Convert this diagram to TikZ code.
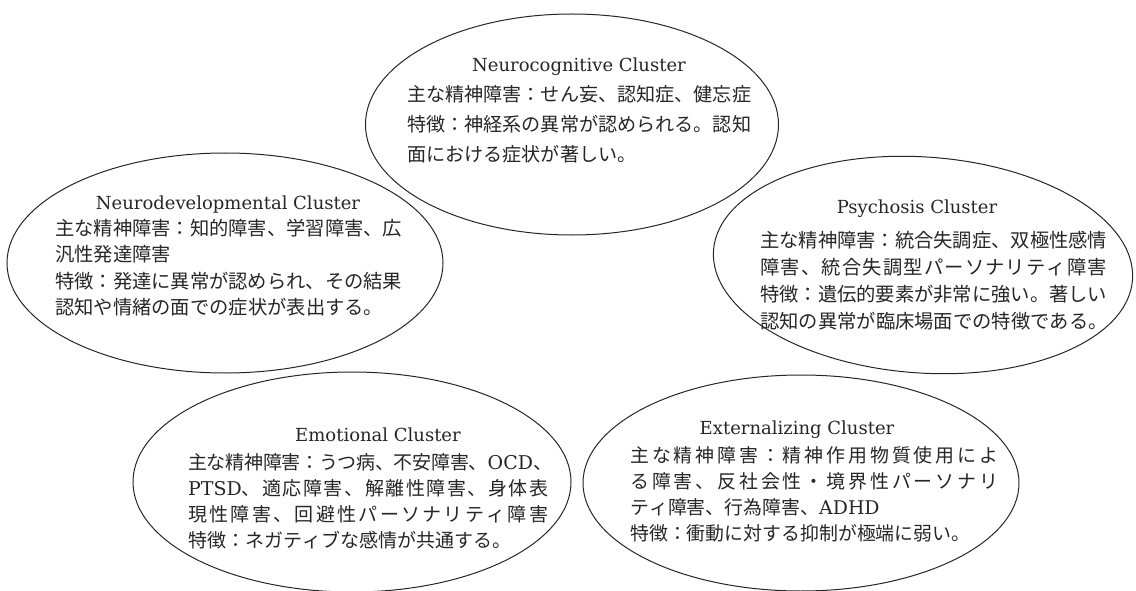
\documentclass[tikz,border=0pt]{standalone}
\usepackage{fontspec}
\usetikzlibrary{shapes.geometric}
\setmainfont{DejaVu Serif}
\newfontfamily\jpfont{Noto Sans CJK JP}
\newfontfamily\latfont{DejaVu Serif}
% inter-character glue for justified Japanese lines
\newcount\cjkc
\cjkc="3000 \loop \XeTeXcharclass\cjkc=7 \advance\cjkc by 1 \ifnum\cjkc<"3100 \repeat
\cjkc="4E00 \loop \XeTeXcharclass\cjkc=7 \advance\cjkc by 1 \ifnum\cjkc<"A000 \repeat
\cjkc="FF00 \loop \XeTeXcharclass\cjkc=7 \advance\cjkc by 1 \ifnum\cjkc<"FFF0 \repeat
\XeTeXinterchartokenstate=1
\XeTeXinterchartoks 7 7 = {\hskip 0pt plus 1pt minus 0.3pt}
\XeTeXinterchartoks 7 0 = {\hskip 0pt plus 1pt minus 0.3pt}
\XeTeXinterchartoks 0 7 = {\hskip 0pt plus 1pt minus 0.3pt}
\newcommand{\jl}[2]{\makebox[#1pt][s]{#2}}
\newcommand{\fr}{\rule{0pt}{20pt}}
\begin{document}
\begin{tikzpicture}[x=1pt,y=-1pt,
  ell/.style={draw=black!85, line width=1pt, ellipse, inner sep=0pt},
  ttl/.style={anchor=base, inner sep=0pt, text=black!85, font=\latfont\fontsize{18}{18}\selectfont},
  body/.style={anchor=north west, inner sep=0pt, align=left, text=black!85}]
\useasboundingbox (0,0) rectangle (1136,591);
% ellipses
\node[ell, minimum width=413pt, minimum height=221pt] (e1) at (572,124.5) {};
\node[ell, minimum width=436pt, minimum height=220pt] (e2) at (225,263) {};
\node[ell, minimum width=420pt, minimum height=216pt, rotate=-4] (e3) at (923,265) {};
\node[ell, minimum width=438pt, minimum height=220pt] (e4) at (352,482) {};
\node[ell, minimum width=436pt, minimum height=216pt] (e5) at (801,483) {};
% Neurocognitive
\node[ttl] (t1) at (579,71.5) {Neurocognitive Cluster};
\node[body, font=\jpfont\fontsize{19.1}{30}\selectfont] (b1) at (407,81)
 {\fr\jl{344}{主な精神障害：せん妄、認知症、健忘症}\\
  \jl{344}{特徴：神経系の異常が認められる。認知}\\
  面における症状が著しい。};
% Neurodevelopmental
\node[ttl] (t2) at (228,209.5) {Neurodevelopmental Cluster};
\node[body, font=\jpfont\fontsize{19.3}{26.5}\selectfont] (b2) at (55,215)
 {\fr\jl{347}{主な精神障害：知的障害、学習障害、広}\\
  汎性発達障害\\
  \jl{347}{特徴：発達に異常が認められ、その結果}\\
  認知や情緒の面での症状が表出する。};
% Psychosis
\node[ttl] (t3) at (917,213.5) {Psychosis Cluster};
\node[body, font=\jpfont\fontsize{19.3}{27}\selectfont] (b3) at (760,227)
 {\fr\jl{347}{主な精神障害：統合失調症、双極性感情}\\
  \jl{347}{障害、統合失調型パーソナリティ障害}\\
  \jl{347}{特徴：遺伝的要素が非常に強い。著しい}\\
  認知の異常が臨床場面での特徴である。};
% Emotional
\node[ttl] (t4) at (378,441.5) {Emotional Cluster};
\node[body, font=\jpfont\fontsize{19}{26}\selectfont] (b4) at (188,449)
 {\fr\jl{360}{主な精神障害：うつ病、不安障害、{\latfont OCD}、}\\
  \jl{360}{{\latfont PTSD}、適応障害、解離性障害、身体表}\\
  \jl{360}{現性障害、回避性パーソナリティ障害}\\
  特徴：ネガティブな感情が共通する。};
% Externalizing
\node[ttl] (t5) at (797,434.5) {Externalizing Cluster};
\node[body, font=\jpfont\fontsize{18.9}{26}\selectfont] (b5) at (630,442)
 {\fr\jl{368}{主な精神障害：精神作用物質使用によ}\\
  \jl{368}{る障害、反社会性・境界性パーソナリ}\\
  ティ障害、行為障害、{\latfont ADHD}\\
  特徴：衝動に対する抑制が極端に弱い。};
\end{tikzpicture}
\end{document}
